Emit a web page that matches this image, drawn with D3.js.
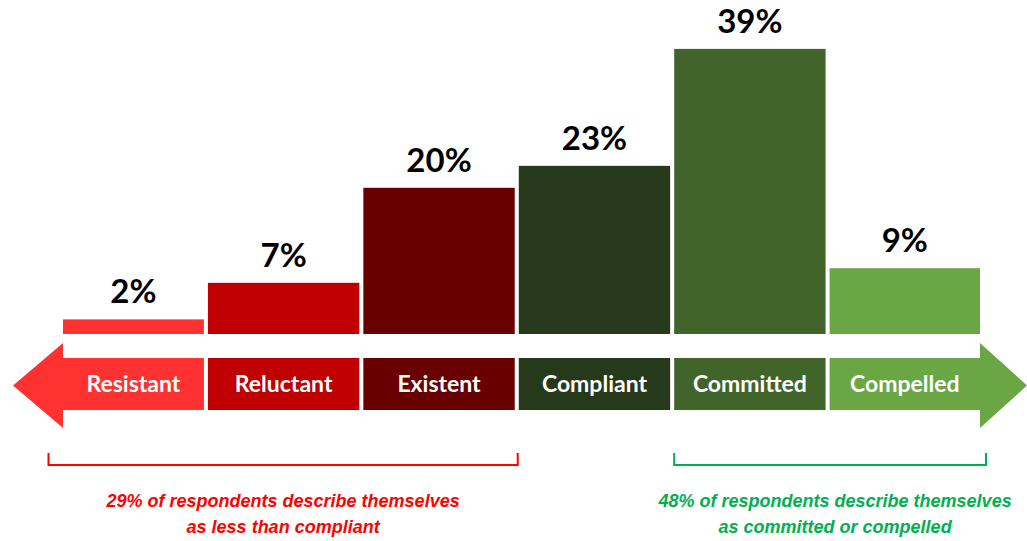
<!DOCTYPE html>
<html lang="en">
<head>
<meta charset="utf-8">
<style>
    body { margin: 0; background: #fff; }
    svg { display: block; }
</style>
</head>
<body>
<svg id="chart"></svg>
<script src="https://d3js.org/d3.v7.min.js"></script>
<script>

    // data
    var categories = ["Resistant", "Reluctant", "Existent", "Compliant", "Committed", "Compelled"];
    var values = [2, 7, 20, 23, 39, 9];
    var colors = ["#ff3131", "#c00000", "#680000", "#26391a", "#41642a", "#6aa644"];
    var notes = [
        {from: "Resistant", to: "Existent", color: "#ff0000",
         lines: ["29% of respondents describe themselves", "as less than compliant"]},
        {from: "Committed", to: "Compelled", color: "#00b050",
         lines: ["48% of respondents describe themselves", "as committed or compelled"]}
    ];

    var width = 1027, height = 541;
    var baseY = 334;
    var bandTop = 358, bandBottom = 410;
    var headTop = 343, headBottom = 428;
    var leftTip = 13, rightTip = 1027;
    var headLeft = 63, headRight = 980;

    var svg = d3.select("#chart")
        .attr("width", width)
        .attr("height", height);

    var x = d3.scaleBand()
        .domain(categories)
        .range([52.5, 981])
        .paddingInner(0.026)
        .paddingOuter(0);

    var y = d3.scaleLinear()
        .domain([0, 40])
        .range([baseY, baseY - 40 * 7.31]);

    var data = categories.map(function (c, i) {
        return {cat: c, value: values[i], color: colors[i], i: i};
    });

    // clip band to the arrow shafts
    function x0(d) { return Math.max(x(d.cat), headLeft); }
    function x1(d) { return Math.min(x(d.cat) + x.bandwidth(), headRight); }

    // bars
    svg.append("g").selectAll("rect")
        .data(data)
        .enter()
        .append("rect")
        .attr("x", x0)
        .attr("y", function (d) { return y(d.value); })
        .attr("width", function (d) { return x1(d) - x0(d); })
        .attr("height", function (d) { return y(0) - y(d.value); })
        .attr("fill", function (d) { return d.color; });

    // value labels
    svg.append("g").selectAll("text")
        .data(data)
        .enter()
        .append("text")
        .attr("x", function (d) { return (x0(d) + x1(d)) / 2; })
        .attr("y", function (d) { return y(d.value) - 16; })
        .attr("text-anchor", "middle")
        .attr("font-family", "Lato, 'Open Sans', sans-serif")
        .attr("font-weight", "bold")
        .attr("font-size", "33px")
        .attr("fill", "#000")
        .text(function (d) { return d.value + "%"; });

    // arrow band segments
    var band = svg.append("g");
    band.selectAll("path")
        .data(data)
        .enter()
        .append("path")
        .attr("fill", function (d) { return d.color; })
        .attr("d", function (d) {
            var a = x0(d), b = x1(d);
            if (d.i === 0) {
                return "M" + b + "," + bandTop + "L" + a + "," + bandTop + "L" + a + "," + headTop +
                    "L" + leftTip + "," + (headTop + headBottom) / 2 + "L" + a + "," + headBottom +
                    "L" + a + "," + bandBottom + "L" + b + "," + bandBottom + "Z";
            } else if (d.i === categories.length - 1) {
                return "M" + a + "," + bandTop + "L" + b + "," + bandTop + "L" + b + "," + headTop +
                    "L" + rightTip + "," + (headTop + headBottom) / 2 + "L" + b + "," + headBottom +
                    "L" + b + "," + bandBottom + "L" + a + "," + bandBottom + "Z";
            }
            return "M" + a + "," + bandTop + "H" + b + "V" + bandBottom + "H" + a + "Z";
        });

    band.selectAll("text")
        .data(data)
        .enter()
        .append("text")
        .attr("x", function (d) { return (x0(d) + x1(d)) / 2; })
        .attr("y", (bandTop + bandBottom) / 2 + 8)
        .attr("text-anchor", "middle")
        .attr("font-family", "Lato, 'Open Sans', sans-serif")
        .attr("font-weight", "bold")
        .attr("font-size", "23px")
        .attr("fill", "#fff")
        .text(function (d) { return d.cat; });

    // brackets + notes
    var bracketTop = 453, bracketY = 465;
    notes.forEach(function (n, k) {
        var a = x(n.from) - 4, b = x(n.to) + x.bandwidth() + 3;
        if (k === 1) { a = x(n.from); b = x(n.to) + x.bandwidth() + 5; }
        var g = svg.append("g");
        g.append("path")
            .attr("d", "M" + a + "," + bracketTop + "V" + bracketY + "H" + b + "V" + bracketTop)
            .attr("fill", "none")
            .attr("stroke", n.color)
            .attr("stroke-width", 2);
        g.selectAll("text")
            .data(n.lines)
            .enter()
            .append("text")
            .attr("x", (a + b) / 2 + (k === 1 ? 5 : 0))
            .attr("y", function (d, i) { return 507 + i * 26; })
            .attr("text-anchor", "middle")
            .attr("font-family", "'Liberation Sans', Arial, sans-serif")
            .attr("font-weight", "bold")
            .attr("font-style", "italic")
            .attr("font-size", "18px")
            .attr("fill", n.color)
            .text(function (d) { return d; });
    });

</script>
</body>
</html>
